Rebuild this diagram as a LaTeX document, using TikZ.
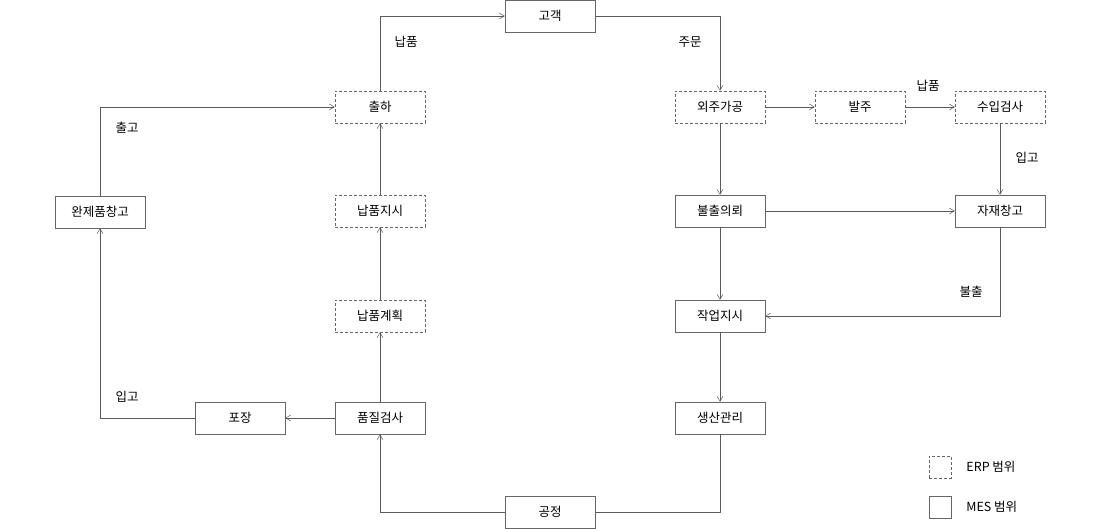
\documentclass[tikz,border=0pt]{standalone}
\usepackage{fontspec}
\setmainfont{Noto Sans CJK KR}
\usepackage{tikz}
\usetikzlibrary{arrows.meta, positioning}

\begin{document}
\begin{tikzpicture}[x=1pt, y=-1pt, font=\fontsize{12.5pt}{14pt}\selectfont]
    \tikzset{%
        box/.style={draw=black!60, line width=0.5pt, minimum width=90pt, minimum height=32pt, inner sep=0pt},
        erp/.style={box, dashed, dash pattern=on 3pt off 2pt},
        mes/.style={box},
        flow/.style={draw=black!65, line width=0.5pt, -{Straight Barb[length=5pt, width=6pt]}},
        lbl/.style={inner sep=0pt}
    }
    \useasboundingbox (0, 0) rectangle (1100, 529);

    % left loop
    \node [mes] (customer) at (550, 16) {고객};
    \node [erp] (ship) at (380, 107) {출하};
    \node [mes] (finstock) at (100, 212) {완제품창고};
    \node [erp] (delorder) at (380, 211) {납품지시};
    \node [erp] (delplan) at (380, 316) {납품계획};
    \node [mes] (pack) at (240, 418) {포장};
    \node [mes] (qc) at (380, 418) {품질검사};
    \node [mes] (process) at (550, 512) {공정};

    % right side
    \node [erp] (outsrc) at (720, 107) {외주가공};
    \node [erp] (purchase) at (860, 107) {발주};
    \node [erp] (inspect) at (1000, 107) {수입검사};
    \node [mes] (request) at (720, 211) {불출의뢰};
    \node [mes] (matstock) at (1000, 211) {자재창고};
    \node [mes] (workorder) at (720, 316) {작업지시};
    \node [mes] (prodmgmt) at (720, 418) {생산관리};

    % legend
    \node [erp, minimum width=22pt, minimum height=22pt] (erpkey) at (940, 467) {};
    \node [mes, minimum width=22pt, minimum height=22pt] (meskey) at (940, 507) {};
    \node [lbl, right=15pt of erpkey] {ERP 범위};
    \node [lbl, right=15pt of meskey] {MES 범위};

    % labels
    \node [lbl] (l1) at (406, 42) {납품};
    \node [lbl] (l2) at (690, 42) {주문};
    \node [lbl] (l3) at (928, 86) {납품};
    \node [lbl] (l4) at (1027, 158) {입고};
    \node [lbl] (l5) at (971, 292) {불출};
    \node [lbl] (l6) at (127, 128) {출고};
    \node [lbl] (l7) at (127, 397) {입고};

    % connectors
    \draw [flow] (ship.north) |- (customer.west);
    \draw [flow] (customer.east) -| (outsrc.north);
    \draw [flow] (outsrc) -- (purchase);
    \draw [flow] (purchase) -- (inspect);
    \draw [flow] (inspect) -- (matstock);
    \draw [flow] (outsrc) -- (request);
    \draw [flow] (request) -- (matstock);
    \draw [flow] (request) -- (workorder);
    \draw [flow] (matstock.south) |- (workorder.east);
    \draw [flow] (workorder) -- (prodmgmt);
    \draw [draw=black!65, line width=0.5pt] (prodmgmt.south) |- (process.east);
    \draw [flow] (process.west) -| (qc.south);
    \draw [flow] (qc) -- (pack);
    \draw [flow] (pack.west) -| (finstock.south);
    \draw [flow] (finstock.north) |- (ship.west);
    \draw [flow] (qc) -- (delplan);
    \draw [flow] (delplan) -- (delorder);
    \draw [flow] (delorder) -- (ship);
\end{tikzpicture}
\end{document}
